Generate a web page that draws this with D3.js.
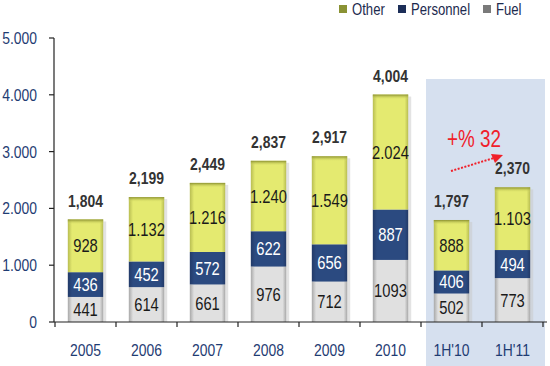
<!DOCTYPE html>
<html>
<head>
<meta charset="utf-8">
<script src="https://cdn.jsdelivr.net/npm/d3@7"></script>
<style>
  body { margin: 0; background: #fff; }
  svg { display: block; font-family: "Liberation Sans", Arial, sans-serif; }
</style>
</head>
<body>
<svg id="chart" width="550" height="366"></svg>
<script>
// chart data
const periods = ['2005', '2006', '2007', '2008', '2009', '2010', "1H'10", "1H'11"];
const fuel = [441, 614, 661, 976, 712, 1093, 502, 773];
const personnel = [436, 452, 572, 622, 656, 887, 406, 494];
const other = [928, 1132, 1216, 1240, 1549, 2024, 888, 1103];
const totals = [1804, 2199, 2449, 2837, 2917, 4004, 1797, 2370];
const yTicks = [0, 1000, 2000, 3000, 4000, 5000];
const halfYear = ["1H'10", "1H'11"];

const svg = d3.select('#chart');

const x = d3.scaleBand().domain(periods).range([55, 543]).paddingInner(0.42).paddingOuter(0.21);
const xBoundary = d3.scaleLinear().domain([0, periods.length]).range([55, 543]);
const y = d3.scaleLinear().domain([0, 5000]).range([322, 38]);

// condensed text (no narrow font installed, so squeeze Liberation Sans)
const NARROW = 0.82;
function label(px, py, str, size, opts = {}) {
  const t = svg.append('text')
    .attr('transform', `translate(${px},${py}) scale(${NARROW},1)`)
    .attr('text-anchor', opts.anchor || 'middle')
    .attr('font-size', size + 'px')
    .attr('fill', opts.fill || '#1a1a1a')
    .text(str);
  if (opts.bold) t.attr('font-weight', 'bold');
  return t;
}

// gradients for the shaded bars
const defs = svg.append('defs');
function hGrad(id, edge, mid) {
  const g = defs.append('linearGradient').attr('id', id).attr('x1', 0).attr('x2', 1).attr('y1', 0).attr('y2', 0);
  g.append('stop').attr('offset', '0%').attr('stop-color', edge);
  g.append('stop').attr('offset', '12%').attr('stop-color', mid);
  g.append('stop').attr('offset', '90%').attr('stop-color', mid);
  g.append('stop').attr('offset', '100%').attr('stop-color', edge);
}
hGrad('g-other', '#b8bd52', '#e4ea70');
hGrad('g-pers', '#223a68', '#2b4a80');
hGrad('g-fuel', '#a8a8a8', '#e0e0e0');
const topGrad = defs.append('linearGradient').attr('id', 'g-top').attr('x1', 0).attr('x2', 0).attr('y1', 0).attr('y2', 1);
topGrad.append('stop').attr('offset', '0%').attr('stop-color', '#8a9030');
topGrad.append('stop').attr('offset', '100%').attr('stop-color', '#e4ea70').attr('stop-opacity', 0);

// light blue panel behind the half-year bars
const hx0 = xBoundary(periods.indexOf(halfYear[0]));
svg.append('rect')
  .attr('x', hx0 + 5)
  .attr('y', 79)
  .attr('width', 545 - hx0 - 5)
  .attr('height', 287)
  .attr('fill', '#d6e0ef');

// stacked series
const series = [
  { key: 'Fuel', values: fuel, fill: 'url(#g-fuel)', text: '#1a1a1a' },
  { key: 'Personnel', values: personnel, fill: 'url(#g-pers)', text: '#fff' },
  { key: 'Other', values: other, fill: 'url(#g-other)', text: '#1a1a1a' }
];

const fmtDot = v => d3.format(',')(v).replace(/,/g, '.');

periods.forEach((p, i) => {
  let base = 0;
  const bx = x(p);
  const bw = x.bandwidth();
  // shadow
  const top = fuel[i] + personnel[i] + other[i];
  svg.append('rect')
    .attr('x', bx + 3)
    .attr('y', y(top) + 2)
    .attr('width', bw)
    .attr('height', y(0) - y(top) - 2)
    .attr('fill', '#c8c8c8')
    .attr('opacity', 0.5);

  series.forEach(s => {
    const v = s.values[i];
    const y0 = y(base);
    const y1 = y(base + v);
    svg.append('rect')
      .attr('x', bx)
      .attr('y', y1)
      .attr('width', bw)
      .attr('height', y0 - y1)
      .attr('fill', s.fill);
    label(bx + bw / 2, (y0 + y1) / 2 + 6.5, s.key === 'Fuel' ? v : fmtDot(v), 18, { fill: s.text });
    base += v;
  });

  // olive top edge on the Other segment
  svg.append('rect')
    .attr('x', bx)
    .attr('y', y(top))
    .attr('width', bw)
    .attr('height', 5)
    .attr('fill', 'url(#g-top)');

  label(bx + bw / 2, y(totals[i]) - 13, d3.format(',')(totals[i]), 17, { bold: true, fill: '#333' });
});

// axes
const axisColor = '#222';
svg.append('line')
  .attr('x1', 54).attr('x2', 54)
  .attr('y1', y(5000)).attr('y2', y(0))
  .attr('stroke', axisColor).attr('stroke-width', 1.2);
svg.selectAll('.ytick')
  .data(yTicks)
  .enter().append('line')
  .attr('x1', 49).attr('x2', 54)
  .attr('y1', d => y(d)).attr('y2', d => y(d))
  .attr('stroke', axisColor).attr('stroke-width', 1.2);
yTicks.forEach(d => {
  label(37, y(d) + 6, d === 0 ? '0' : fmtDot(d), 17, { anchor: 'end', fill: '#1f3c73' });
});

svg.append('line')
  .attr('x1', 54).attr('x2', 547)
  .attr('y1', y(0)).attr('y2', y(0))
  .attr('stroke', axisColor).attr('stroke-width', 1.2);
svg.selectAll('.xtick')
  .data(d3.range(periods.length + 1))
  .enter().append('line')
  .attr('x1', d => xBoundary(d)).attr('x2', d => xBoundary(d))
  .attr('y1', y(0)).attr('y2', y(0) + 5)
  .attr('stroke', axisColor).attr('stroke-width', 1.2);
periods.forEach(p => {
  label(x(p) + x.bandwidth() / 2, 356, p, 17, { fill: '#1f3c73' });
});

// legend
const legend = [
  { key: 'Other', color: '#8a9234', x: 339 },
  { key: 'Personnel', color: '#1c2e58', x: 398 },
  { key: 'Fuel', color: '#7a7a7a', x: 483 }
];
legend.forEach(l => {
  svg.append('rect')
    .attr('x', l.x).attr('y', 5)
    .attr('width', 8).attr('height', 8)
    .attr('fill', l.color);
  label(l.x + 13, 15, l.key, 16, { anchor: 'start', fill: '#1c2a4e' });
});

// growth annotation
label(447, 147, '+% 32', 23, { anchor: 'start', fill: '#f0202a' });
const ax1 = 451, ay1 = 171, ax2 = 494, ay2 = 158;
svg.append('line')
  .attr('x1', ax1).attr('y1', ay1).attr('x2', ax2).attr('y2', ay2)
  .attr('stroke', '#f0202a').attr('stroke-width', 2).attr('stroke-dasharray', '2,1.5');
svg.append('path')
  .attr('d', `M${ax2 - 3},${ay2 - 4} L${ax2 + 9},${ay2 - 3} L${ax2 + 1},${ay2 + 5} Z`)
  .attr('fill', '#f0202a');
</script>
</body>
</html>
